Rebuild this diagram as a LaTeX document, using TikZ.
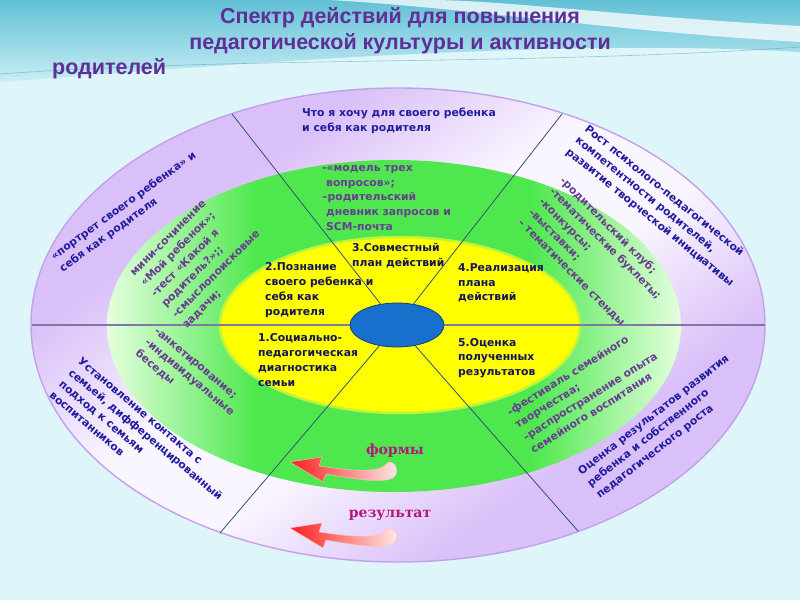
\documentclass[tikz,border=0pt]{standalone}
\usepackage{fontspec}
\setmainfont{DejaVu Sans}
\newfontfamily\titlefont{Liberation Sans}
\newfontfamily\formfont{DejaVu Serif}
\usetikzlibrary{shapes.geometric}
\definecolor{bgcyan}{RGB}{222,245,250}
\definecolor{hdrteal}{RGB}{98,192,214}
\definecolor{hdrlight}{RGB}{200,238,245}
\definecolor{lilac}{RGB}{218,192,248}
\definecolor{lilacpale}{RGB}{250,246,255}
\definecolor{lilacedge}{RGB}{196,160,236}
\definecolor{ringgreen}{RGB}{78,232,78}
\definecolor{palegreen}{RGB}{228,255,222}
\definecolor{yel}{RGB}{255,255,0}
\definecolor{yelrim}{RGB}{190,245,60}
\definecolor{hubblue}{RGB}{22,112,204}
\definecolor{hubedge}{RGB}{25,60,120}
\definecolor{spokecol}{RGB}{50,80,125}
\definecolor{hlinecol}{RGB}{128,118,168}
\definecolor{outertxt}{RGB}{34,28,160}
\definecolor{greentxt}{RGB}{105,62,145}
\definecolor{yeltxt}{RGB}{20,20,92}
\definecolor{titlecol}{RGB}{96,46,150}
\definecolor{formcol}{RGB}{178,24,128}
\definecolor{arrred}{RGB}{250,30,30}
\definecolor{arrpale}{RGB}{255,236,236}
\pgfdeclarehorizontalshading{greenring}{100bp}{color(0bp)=(palegreen); color(25bp)=(palegreen); color(38bp)=(ringgreen); color(62bp)=(ringgreen); color(75bp)=(palegreen); color(100bp)=(palegreen)}
\pgfdeclarehorizontalshading{lilacring}{100bp}{color(0bp)=(lilac); color(32bp)=(lilac); color(45bp)=(lilacpale); color(55bp)=(lilacpale); color(68bp)=(lilac); color(100bp)=(lilac)}
\begin{document}
\begin{tikzpicture}[x=1pt,y=-1pt,
  ringtext/.style={font=\bfseries\fontsize{10.8}{14.8}\selectfont, align=left, inner sep=0pt},
  outerlbl/.style={ringtext, text=outertxt},
  greenlbl/.style={ringtext, text=greentxt},
  yellbl/.style={ringtext, text=yeltxt, anchor=west},
  spoke/.style={draw=spokecol, line width=0.8pt},
  hline/.style={draw=hlinecol, line width=1.4pt},
  formlbl/.style={font=\formfont\bfseries\fontsize{14}{16}\selectfont, text=formcol, inner sep=0pt},
  titlelbl/.style={font=\titlefont\bfseries\fontsize{21.5}{24}\selectfont, text=titlecol, inner sep=0pt},
  curvarrow/.pic={
    \shade[left color=arrred, right color=arrpale, draw=arrred!25!white, line width=0.4pt]
      (0,0) -- (32,-5) -- (29,4) .. controls (50,7) and (72,10) .. (87,7)
      .. controls (93,6) and (96,2) .. (99,0)
      .. controls (106,0) and (110,10) .. (103,16)
      .. controls (90,22) and (60,16) .. (36,12) -- (33,20) -- cycle;
  }
]
\useasboundingbox (0,0) rectangle (800,600);
% background
\fill[bgcyan] (0,0) rectangle (800,600);
\shade[top color=hdrteal, bottom color=hdrlight]
  (0,0) -- (800,0) -- (800,52) .. controls (560,38) and (260,62) .. (0,82) -- cycle;
\fill[white, opacity=0.75]
  (330,0) .. controls (470,8) and (600,30) .. (800,42) -- (800,26) .. controls (620,16) and (500,0) .. (430,0) -- cycle;
\draw[hdrteal!80!black, opacity=0.5, line width=0.6pt] (0,74) .. controls (250,56) and (520,66) .. (800,47);
% rings
\shade[shading=lilacring, shading angle=-54]
  (398,325) ellipse [x radius=367, y radius=237];
\draw[lilacedge, line width=1.4pt] (398,325) ellipse [x radius=367, y radius=237];
\shade[shading=greenring] (394,326) ellipse [x radius=287, y radius=166];
\draw[yelrim, line width=2.5pt, fill=yel] (400,325) ellipse [x radius=180, y radius=88];
% hub and spokes
\node[ellipse, minimum width=94pt, minimum height=44pt, inner sep=0pt, fill=hubblue, draw=hubedge, line width=0.8pt] (hub) at (397,325) {};
\coordinate (ul) at (232,114);
\coordinate (ur) at (562,114);
\coordinate (ll) at (220,533);
\coordinate (lr) at (578,531);
\coordinate (hl) at (32,325);
\coordinate (hr) at (765,325);
\draw[hline] (hl) -- (hub);
\draw[hline] (hub) -- (hr);
\draw[spoke] (hub) -- (ul);
\draw[spoke] (hub) -- (ur);
\draw[spoke] (hub) -- (ll);
\draw[spoke] (hub) -- (lr);
% title
\node[titlelbl] (t1) at (400,18) {Спектр действий для повышения};
\node[titlelbl] (t2) at (400,44) {педагогической культуры и активности};
\node[titlelbl, anchor=west] (t3) at (52,69) {родителей};
% outer ring texts
\node[outerlbl, anchor=west] (o1) at (302,121) {Что я хочу для своего ребенка\\и себя как родителя};
\node[outerlbl, rotate=36] (o2) at (128,212) {«портрет своего ребенка» и\\себя как родителя};
\node[outerlbl, rotate=-39] (o3) at (659,206) {Рост психолого-педагогической\\компетентности родителей,\\развитие  творческой инициативы};
\node[outerlbl, rotate=-40] (o4) at (141,440) {Установление контакта с\\семьей, дифференцированный\\подход к семьям\\воспитанников};
\node[outerlbl, rotate=38] (o5) at (663,427) {Оценка результатов развития\\ребенка и собственного\\педагогического роста};
% green ring texts
\node[greenlbl, anchor=west] (g1) at (322,198) {-«модель трех\\\hspace*{4pt}вопросов»;\\--родительский\\\hspace*{4pt}дневник запросов и\\\hspace*{4pt}SCM-почта};
\node[greenlbl, rotate=45] (g2) at (201,259) {мини-сочинение\\«Мой ребенок»;\\-тест «Какой я\\родитель?»;;\\-смыслопоисковые\\задачи;};
\node[greenlbl, rotate=-45] (g3) at (595,254) {-родительский клуб;\\-тематические буклеты;\\-конкурсы;\\--выставки;\\– тематические стенды};
\node[greenlbl, rotate=-40] (g4) at (189,378) {-анкетирование;\\-индивидуальные\\беседы};
\node[greenlbl, rotate=32] (g5) at (586,390) {-фестиваль семейного\\творчества;\\--распространение опыта\\семейного воспитания};
% yellow texts
\node[yellbl] (y3) at (352,256) {3.Совместный\\план действий};
\node[yellbl] (y2) at (265,290) {2.Познание\\своего ребенка и\\себя как\\родителя};
\node[yellbl] (y4) at (458,283) {4.Реализация\\плана\\действий};
\node[yellbl] (y1) at (258,360) {1.Социально-\\педагогическая\\диагностика\\семьи};
\node[yellbl] (y5) at (458,358) {5.Оценка\\полученных\\результатов};
% forms / result
\node[formlbl] (forms) at (395,451) {формы};
\node[formlbl] (result) at (390,515) {результат};
\pic at (290,462) {curvarrow};
\pic at (290,528) {curvarrow};
\end{tikzpicture}
\end{document}
